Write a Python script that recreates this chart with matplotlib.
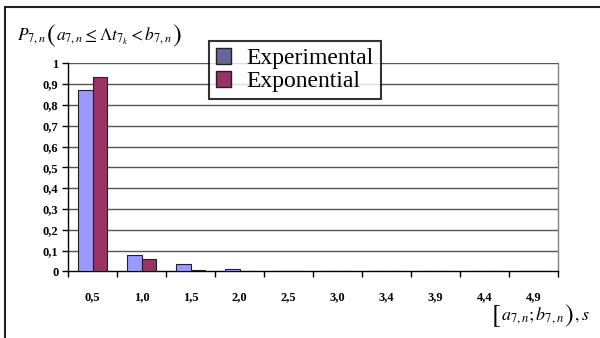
import matplotlib.pyplot as plt
import numpy as np
from matplotlib.patches import Patch, Rectangle

# ============================================================
# DADOS
# ============================================================

INTERVALS = ["0,5", "1,0", "1,5", "2,0", "2,5", "3,0", "3,4", "3,9", "4,4", "4,9"]
EXPERIMENTAL = [0.872, 0.077, 0.034, 0.011, 0.003, 0, 0, 0, 0, 0]
EXPONENTIAL = [0.936, 0.061, 0.004, 0.001, 0.0005, 0, 0, 0, 0, 0]
Y_TICKS = [0, 0.1, 0.2, 0.3, 0.4, 0.5, 0.6, 0.7, 0.8, 0.9, 1]
Y_LABELS = ["0", "0,1", "0,2", "0,3", "0,4", "0,5", "0,6", "0,7", "0,8", "0,9", "1"]

# ============================================================
# ESTILO
# ============================================================

BLUE = "#9999FF"
WINE = "#993366"
BLUE_KEY = "#666699"
SERIF = "Liberation Serif"

plt.rcParams["mathtext.fontset"] = "stix"
plt.rcParams["font.family"] = SERIF

W, H = 600, 338
fig = plt.figure(figsize=(W / 100, H / 100), dpi=100)
renderer = fig.canvas.get_renderer()


def write_chunks(x0, y0, chunks):
    """Escreve pedaços de texto em sequência na mesma linha de base (pixels)"""
    xp = x0
    for txt, size, dy in chunks:
        t = fig.text(xp / W, 1 - (y0 + dy) / H, txt, fontsize=size,
                     ha="left", va="baseline")
        xp += t.get_window_extent(renderer).width


# moldura externa (cortada à direita e embaixo)
fig.patches.append(Rectangle((4.5 / W, -0.1), 1.2, 1 - 6.5 / H + 0.1,
                             transform=fig.transFigure, fill=False,
                             edgecolor="#222222", linewidth=1.5))

ax = fig.add_axes([68 / W, 1 - 271.3 / H, 490 / W, 208 / H])

x = np.arange(len(INTERVALS))
bw = 0.3
ax.bar(x - bw / 2, EXPERIMENTAL, bw, color=BLUE, edgecolor="#222222",
       linewidth=0.8, zorder=3)
ax.bar(x + bw / 2, EXPONENTIAL, bw, color=WINE, edgecolor="#222222",
       linewidth=0.8, zorder=3)

ax.set_xlim(-0.5, len(INTERVALS) - 0.5)
ax.set_ylim(0, 1)

# grade horizontal
for yv in Y_TICKS[1:]:
    ax.axhline(yv, color="#555555", linewidth=1, zorder=1)

ax.set_yticks(Y_TICKS)
ax.set_yticklabels(Y_LABELS, fontsize=9, fontweight="bold", family=SERIF)
ax.tick_params(axis="y", direction="out", length=4, width=1, pad=3)

ax.set_xticks(np.arange(len(INTERVALS) + 1) - 0.5)
ax.set_xticklabels([])
ax.set_xticks(x, minor=True)
ax.set_xticklabels(INTERVALS, minor=True, fontsize=9, fontweight="bold",
                   family=SERIF)
ax.tick_params(axis="x", which="major", direction="out", length=4, width=1)
ax.tick_params(axis="x", which="minor", length=0, pad=14)

for s in ["left", "bottom"]:
    ax.spines[s].set_color("black")
    ax.spines[s].set_linewidth(1)
ax.spines["top"].set_visible(False)
ax.spines["right"].set_color("#808080")
ax.spines["right"].set_linewidth(1)

# legenda
handles = [Patch(facecolor=BLUE_KEY, edgecolor="#222222", label="Experimental"),
           Patch(facecolor=WINE, edgecolor="#222222", label="Exponential")]
leg = fig.legend(handles=handles, loc="upper left",
                 bbox_to_anchor=(209 / W, 1 - 41 / H), frameon=True,
                 fancybox=False, prop={"family": SERIF, "size": 17},
                 handlelength=0.65, handleheight=0.65, handletextpad=0.65,
                 borderpad=0.3, labelspacing=0.08, borderaxespad=0)
leg.get_frame().set_edgecolor("black")
leg.get_frame().set_linewidth(1.5)
leg.set_zorder(5)

# rótulos dos eixos (parênteses maiores, como no original)
write_chunks(17, 40, [
    (r"$P_{7,n}$", 12.5, 0),
    (r"$($", 19, 2),
    (r"$a_{7,n} \leq \Lambda t_{7_k} < b_{7,n}$", 12.5, 0),
    (r"$)$", 19, 2),
])
write_chunks(491, 320, [
    (r"$[$", 19, 2),
    (r"$a_{7,n};b_{7,n}$", 13, 0),
    (r"$)$", 19, 2),
    (r"$,s$", 13, 0),
])

fig.savefig("out.png", dpi=100)
